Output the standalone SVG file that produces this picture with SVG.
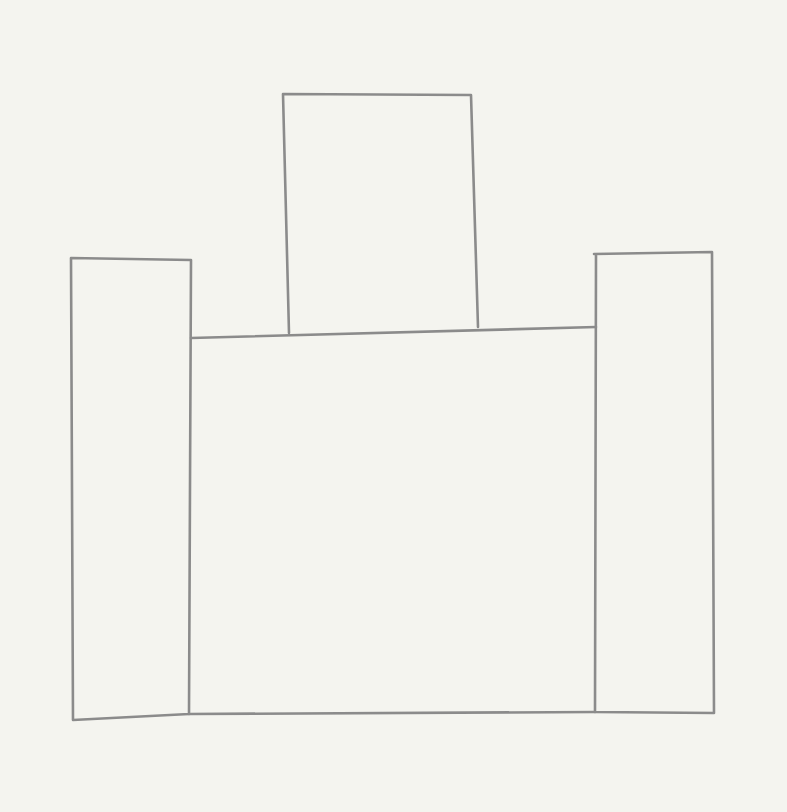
<svg xmlns="http://www.w3.org/2000/svg" width="787" height="812" viewBox="0 0 787 812">
<style>
.s{fill:none;stroke:#8b8b8b;stroke-width:2.6;stroke-linejoin:round;stroke-linecap:round}
</style>
<rect width="787" height="812" fill="#f4f4ef"/>
<g id="left-tower"><path class="s" d="M71,258 L191,260 L189,714 L73,720 Z"/></g>
<g id="right-tower"><path class="s" d="M594,254 L712,252 L714,713 L595,712 L596,254"/></g>
<g id="top-block"><path class="s" d="M289,333 L283,94 L471,95 L478,327"/></g>
<g id="main-block"><path class="s" d="M191,338 L596,327 M189,714 L595,712"/></g>
<g id="connectors"></g>
</svg>
